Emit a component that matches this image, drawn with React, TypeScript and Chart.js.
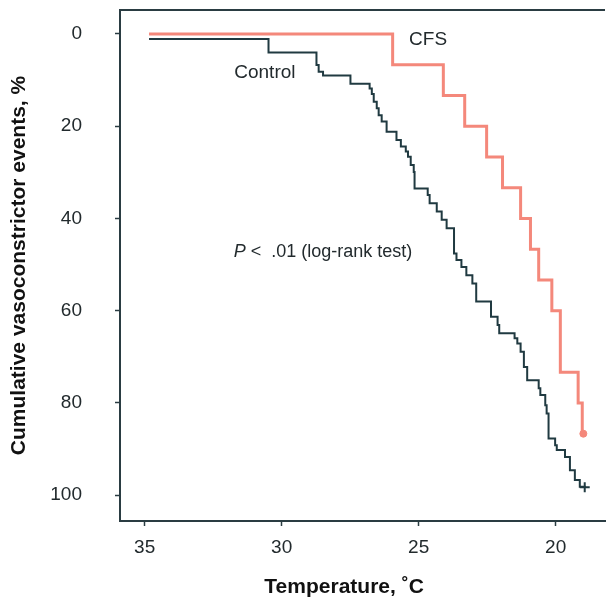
import React, { useEffect, useRef } from 'react';
import { Chart, registerables } from 'chart.js';

Chart.register(...registerables);

// Temperature (°C) at which each step occurs, and cumulative % after the step
const controlTemp = [34.84, 30.48, 28.73, 28.65, 28.49, 27.49, 26.79, 26.71, 26.64, 26.53, 26.46, 26.35, 26.17, 25.81, 25.65, 25.47, 25.39, 25.29, 25.18, 25.15, 24.67, 24.6, 24.34, 24.16, 23.98, 23.71, 23.62, 23.44, 23.26, 23.04, 22.9, 22.36, 22.12, 22.06, 21.5, 21.4, 21.28, 21.16, 21.04, 20.62, 20.56, 20.38, 20.33, 20.26, 20.02, 19.96, 19.66, 19.48, 19.3, 19.12, 18.94];
const controlEvents = [1.1, 4.0, 6.7, 8.2, 9.0, 10.8, 11.8, 13.0, 14.7, 16.1, 17.6, 19.0, 21.2, 23.0, 24.4, 25.5, 26.6, 28.4, 29.9, 33.5, 34.9, 36.7, 38.5, 40.3, 42.1, 47.6, 49.0, 50.5, 52.3, 54.1, 58.0, 61.3, 63.1, 64.9, 66.0, 67.1, 68.9, 72.2, 75.1, 76.8, 78.3, 80.5, 82.3, 87.7, 89.2, 90.2, 91.7, 94.6, 96.7, 98.2, 98.3];

const cfsTemp = [34.84, 25.95, 24.1, 23.32, 22.52, 21.94, 21.28, 20.92, 20.62, 20.14, 19.83, 19.18, 19.03, 18.99];
const cfsEvents = [0, 6.67, 13.33, 20, 26.67, 33.33, 40, 46.67, 53.33, 60, 73.33, 80, 86.67, 86.67];

const xTicks = [35, 30, 25, 20];
const yTicks = [0, 20, 40, 60, 80, 100];

const xTitle = 'Temperature, ˚C';
const yTitle = 'Cumulative vasoconstrictor events, %';
const cfsLabel = 'CFS';
const controlLabel = 'Control';
const pLabel = 'P';
const pRest = ' <  .01 (log-rank test)';

const FAMILY = '"Liberation Sans", Arial, Helvetica, sans-serif';
const AXIS = '#2a3c42';
const TEXT = '#222a2d';
const BLACK = '#203a41';
const PINK = '#f4887b';

const annotations = {
  id: 'annotations',
  afterDraw(chart: any) {
    const { ctx, chartArea, scales } = chart;
    const x = scales.x;
    const y = scales.y;
    ctx.save();
    // top frame line
    ctx.strokeStyle = AXIS;
    ctx.lineWidth = 2;
    ctx.beginPath();
    ctx.moveTo(chartArea.left - 1, chartArea.top);
    ctx.lineTo(chartArea.right, chartArea.top);
    ctx.stroke();

    ctx.fillStyle = TEXT;
    ctx.textBaseline = 'middle';
    ctx.textAlign = 'left';
    ctx.font = `19px ${FAMILY}`;
    ctx.fillText(cfsLabel, x.getPixelForValue(25.35), y.getPixelForValue(1.3));
    ctx.fillText(controlLabel, x.getPixelForValue(31.73), y.getPixelForValue(8.5));

    const px = x.getPixelForValue(31.75);
    const py = y.getPixelForValue(47.2);
    ctx.font = `italic 18px ${FAMILY}`;
    ctx.fillText(pLabel, px, py);
    const w = ctx.measureText(pLabel).width;
    ctx.font = `18px ${FAMILY}`;
    ctx.fillText(pRest, px + w, py);

    // x axis title
    ctx.font = `bold 21px ${FAMILY}`;
    ctx.textAlign = 'center';
    ctx.fillStyle = '#111';
    ctx.fillText(xTitle, chartArea.left + (chartArea.right - chartArea.left) * 0.462, 587);
    ctx.restore();
  },
};

export default function App() {
  const ref = useRef<HTMLCanvasElement>(null);
  useEffect(() => {
    document.body.style.margin = '0';
    const lastC = controlTemp.length - 1;
    const lastF = cfsTemp.length - 1;
    const chart = new Chart(ref.current as HTMLCanvasElement, {
      type: 'line',
      data: {
        datasets: [
          {
            label: controlLabel,
            data: controlTemp.map((t, i) => ({ x: t, y: controlEvents[i] })),
            stepped: 'before',
            borderColor: BLACK,
            borderWidth: 2,
            fill: false,
            pointRadius: controlTemp.map((_, i) => (i === lastC ? 5 : 0)),
            pointStyle: 'cross',
            pointBorderColor: BLACK,
            pointBorderWidth: 2,
          },
          {
            label: cfsLabel,
            data: cfsTemp.map((t, i) => ({ x: t, y: cfsEvents[i] })),
            stepped: 'before',
            borderColor: PINK,
            borderWidth: 3,
            fill: false,
            pointRadius: cfsTemp.map((_, i) => (i === lastF ? 3.5 : 0)),
            pointStyle: 'circle',
            pointBackgroundColor: PINK,
            pointBorderColor: PINK,
            pointBorderWidth: 1,
          },
        ],
      } as any,
      options: {
        animation: false,
        responsive: false,
        layout: { padding: { top: 10, right: 0, bottom: 0, left: 0 } },
        plugins: { legend: { display: false }, tooltip: { enabled: false } },
        scales: {
          x: {
            type: 'linear',
            reverse: true,
            min: 18.2,
            max: 35.9,
            afterFit: (s: any) => { s.height = 85; s.paddingLeft = 0; s.paddingRight = 0; },
            afterBuildTicks: (s: any) => { s.ticks = xTicks.map((v) => ({ value: v })); },
            grid: { display: true, drawOnChartArea: false, drawTicks: true, tickLength: 5, tickWidth: 1.5, tickColor: AXIS },
            border: { display: true, color: AXIS, width: 2 },
            ticks: { font: { family: FAMILY, size: 19 }, color: TEXT, padding: 10, maxRotation: 0, autoSkip: false },
          },
          y: {
            type: 'linear',
            reverse: true,
            min: -5.2,
            max: 105.6,
            afterFit: (s: any) => { s.width = 120; s.paddingTop = 0; s.paddingBottom = 0; },
            afterBuildTicks: (s: any) => { s.ticks = yTicks.map((v) => ({ value: v })); },
            grid: { display: true, drawOnChartArea: false, drawTicks: true, tickLength: 5, tickWidth: 1.5, tickColor: AXIS },
            border: { display: true, color: AXIS, width: 2 },
            ticks: { font: { family: FAMILY, size: 19 }, color: TEXT, padding: 33, autoSkip: false },
            title: {
              display: true,
              text: yTitle,
              font: { family: FAMILY, size: 21, weight: 'bold' },
              color: '#111',
              padding: { top: 7, bottom: 0 },
            },
          },
        },
      } as any,
      plugins: [annotations],
    });
    return () => chart.destroy();
  }, []);
  return (
    <div style={{ position: 'absolute', left: 0, top: 0, width: 612, height: 606, background: '#fff' }}>
      <canvas ref={ref} width={612} height={606} style={{ display: 'block' }} />
    </div>
  );
}
